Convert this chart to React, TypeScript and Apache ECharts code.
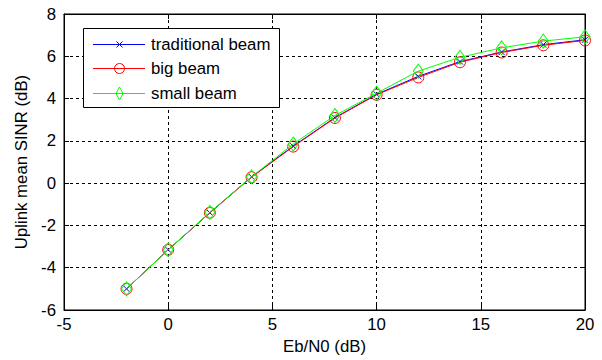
import React, { useEffect, useRef } from "react";
import * as echarts from "echarts";

const ebn0 = [-2, 0, 2, 4, 6, 8, 10, 12, 14, 16, 18, 20];
const traditionalBeam = [-5.0, -3.15, -1.4, 0.3, 1.75, 3.1, 4.2, 5.05, 5.75, 6.2, 6.55, 6.78];
const bigBeam = [-5.0, -3.15, -1.4, 0.28, 1.73, 3.08, 4.18, 5.0, 5.72, 6.18, 6.52, 6.75];
const smallBeam = [-5.0, -3.15, -1.38, 0.3, 1.85, 3.2, 4.25, 5.3, 5.95, 6.4, 6.72, 6.92];
const seriesNames = ["traditional beam", "big beam", "small beam"];
const seriesColors = ["#0000ff", "#ff0000", "#00ff00"];

const crossPath = "path://M0,0L10,10M10,0L0,10";
const FONT = "Liberation Sans, Arial, sans-serif";
const FS = 16.8;

function legendGraphic() {
  const rows = [44, 68, 93];
  const els: any[] = [
    {
      type: "rect",
      shape: { x: 83.5, y: 28.5, width: 196, height: 79 },
      style: { fill: "#fff", stroke: "#000", lineWidth: 1 },
      z: 100,
    },
  ];
  rows.forEach((y, i) => {
    const c = seriesColors[i];
    const yy = y + 0.5;
    els.push({
      type: "line",
      shape: { x1: 93, y1: yy, x2: 145, y2: yy },
      style: { stroke: c, lineWidth: 1 },
      z: 101,
    });
    if (i === 0) {
      els.push({ type: "line", shape: { x1: 116.5, y1: yy - 3, x2: 122.5, y2: yy + 3 }, style: { stroke: c, lineWidth: 1 }, z: 102 });
      els.push({ type: "line", shape: { x1: 122.5, y1: yy - 3, x2: 116.5, y2: yy + 3 }, style: { stroke: c, lineWidth: 1 }, z: 102 });
    } else if (i === 1) {
      els.push({ type: "circle", shape: { cx: 119.5, cy: yy, r: 5 }, style: { fill: "none", stroke: c, lineWidth: 1 }, z: 102 });
    } else {
      els.push({
        type: "polygon",
        shape: { points: [[119.5, yy - 6.5], [123, yy], [119.5, yy + 6.5], [116, yy]] },
        style: { fill: "none", stroke: c, lineWidth: 1 },
        z: 102,
      });
    }
    els.push({
      type: "text",
      x: 151,
      y: yy,
      style: { text: seriesNames[i], fontFamily: FONT, fontSize: FS, fill: "#000", verticalAlign: "middle", align: "left" },
      z: 102,
    });
  });
  return els;
}

export default function App() {
  const ref = useRef<HTMLDivElement>(null);
  useEffect(() => {
    if (!ref.current) return;
    const chart = echarts.init(ref.current, null, { renderer: "svg" });
    const mk = (vals: number[]) => ebn0.map((x, i) => [x, vals[i]]);
    const gridLine = { show: true, lineStyle: { color: "#000", type: [3, 3], width: 1 } };
    const tick = { show: true, inside: true, length: 5, lineStyle: { color: "#000" } };
    const label = { fontFamily: FONT, fontSize: FS, color: "#000" };
    chart.setOption({
      animation: false,
      backgroundColor: "#ffffff",
      grid: { left: 64, top: 14, right: 17, bottom: 49, show: true, borderColor: "#000", borderWidth: 1 },
      xAxis: [
        {
          type: "value",
          min: -5,
          max: 20,
          interval: 5,
          name: "Eb/N0 (dB)",
          nameLocation: "middle",
          nameGap: 28,
          nameTextStyle: label,
          axisLine: { show: true, onZero: false, lineStyle: { color: "#000" } },
          axisTick: tick,
          axisLabel: { ...label, margin: 6 },
          splitLine: gridLine,
        },
        {
          type: "value",
          position: "top",
          min: -5,
          max: 20,
          interval: 5,
          axisLine: { show: true, onZero: false, lineStyle: { color: "#000" } },
          axisTick: tick,
          axisLabel: { show: false },
          splitLine: { show: false },
        },
      ],
      yAxis: [
        {
          type: "value",
          min: -6,
          max: 8,
          interval: 2,
          name: "Uplink mean SINR (dB)",
          nameLocation: "middle",
          nameGap: 34,
          nameTextStyle: label,
          axisLine: { show: true, onZero: false, lineStyle: { color: "#000" } },
          axisTick: tick,
          axisLabel: { ...label, margin: 8 },
          splitLine: gridLine,
        },
        {
          type: "value",
          position: "right",
          min: -6,
          max: 8,
          interval: 2,
          axisLine: { show: true, onZero: false, lineStyle: { color: "#000" } },
          axisTick: tick,
          axisLabel: { show: false },
          splitLine: { show: false },
        },
      ],
      graphic: legendGraphic(),
      series: [
        {
          name: seriesNames[0],
          type: "line",
          data: mk(traditionalBeam),
          symbol: crossPath,
          symbolSize: 6,
          showAllSymbol: true,
          lineStyle: { color: seriesColors[0], width: 1 },
          itemStyle: { color: "transparent", borderColor: seriesColors[0], borderWidth: 1 },
          z: 2,
        },
        {
          name: seriesNames[1],
          type: "line",
          data: mk(bigBeam),
          symbol: "circle",
          symbolSize: 11,
          showAllSymbol: true,
          lineStyle: { color: seriesColors[1], width: 1 },
          itemStyle: { color: "transparent", borderColor: seriesColors[1], borderWidth: 1 },
          z: 3,
        },
        {
          name: seriesNames[2],
          type: "line",
          data: mk(smallBeam),
          symbol: "diamond",
          symbolSize: [10, 14],
          showAllSymbol: true,
          lineStyle: { color: seriesColors[2], width: 1 },
          itemStyle: { color: "transparent", borderColor: seriesColors[2], borderWidth: 1 },
          z: 4,
        },
      ],
    });
    return () => chart.dispose();
  }, []);
  return (
    <div
      ref={ref}
      style={{ position: "absolute", left: 0, top: 0, width: 602, height: 360, background: "#fff" }}
    />
  );
}
